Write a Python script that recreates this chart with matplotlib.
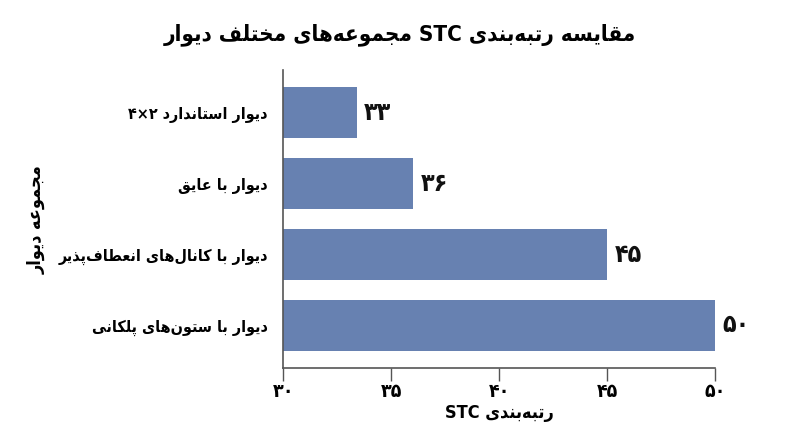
import matplotlib
matplotlib.use('Agg')
import matplotlib.pyplot as plt
from matplotlib.ticker import FuncFormatter

# داده ها
walls = ['دیوار استاندارد ۲×۴', 'دیوار با عایق',
         'دیوار با کانال‌های انعطاف‌پذیر', 'دیوار با ستون‌های پلکانی']
stc_labels = [33, 36, 45, 50]
stc_bars = [33.4, 36, 45, 50]   # طول میله ها چنان که در تصویر دیده می شود
xticks = [30, 35, 40, 45, 50]
title = 'مقایسه رتبه‌بندی STC مجموعه‌های مختلف دیوار'
xlabel = 'رتبه‌بندی STC'
ylabel = 'مجموعه دیوار'

# اشکال حروف: جدا، پایانی، آغازی، میانی
FORMS = {
    'ا': (0xFE8D, 0xFE8E), 'آ': (0xFE81, 0xFE82), 'د': (0xFEA9, 0xFEAA),
    'ذ': (0xFEAB, 0xFEAC), 'ر': (0xFEAD, 0xFEAE), 'ز': (0xFEAF, 0xFEB0),
    'ژ': (0xFB8A, 0xFB8B), 'و': (0xFEED, 0xFEEE),
    'ب': (0xFE8F, 0xFE90, 0xFE91, 0xFE92), 'ت': (0xFE95, 0xFE96, 0xFE97, 0xFE98),
    'ث': (0xFE99, 0xFE9A, 0xFE9B, 0xFE9C), 'ج': (0xFE9D, 0xFE9E, 0xFE9F, 0xFEA0),
    'ح': (0xFEA1, 0xFEA2, 0xFEA3, 0xFEA4), 'خ': (0xFEA5, 0xFEA6, 0xFEA7, 0xFEA8),
    'س': (0xFEB1, 0xFEB2, 0xFEB3, 0xFEB4), 'ش': (0xFEB5, 0xFEB6, 0xFEB7, 0xFEB8),
    'ص': (0xFEB9, 0xFEBA, 0xFEBB, 0xFEBC), 'ض': (0xFEBD, 0xFEBE, 0xFEBF, 0xFEC0),
    'ط': (0xFEC1, 0xFEC2, 0xFEC3, 0xFEC4), 'ظ': (0xFEC5, 0xFEC6, 0xFEC7, 0xFEC8),
    'ع': (0xFEC9, 0xFECA, 0xFECB, 0xFECC), 'غ': (0xFECD, 0xFECE, 0xFECF, 0xFED0),
    'ف': (0xFED1, 0xFED2, 0xFED3, 0xFED4), 'ق': (0xFED5, 0xFED6, 0xFED7, 0xFED8),
    'ل': (0xFEDD, 0xFEDE, 0xFEDF, 0xFEE0), 'م': (0xFEE1, 0xFEE2, 0xFEE3, 0xFEE4),
    'ن': (0xFEE5, 0xFEE6, 0xFEE7, 0xFEE8), 'ه': (0xFEE9, 0xFEEA, 0xFEEB, 0xFEEC),
    'پ': (0xFB56, 0xFB57, 0xFB58, 0xFB59), 'چ': (0xFB7A, 0xFB7B, 0xFB7C, 0xFB7D),
    'ک': (0xFB8E, 0xFB8F, 0xFB90, 0xFB91), 'گ': (0xFB92, 0xFB93, 0xFB94, 0xFB95),
    'ی': (0xFBFC, 0xFBFD, 0xFBFE, 0xFBFF),
}
FA_DIGITS = '۰۱۲۳۴۵۶۷۸۹'


def shape(s):
    out = []
    for i, ch in enumerate(s):
        if ch == '\u200c':
            continue
        if ch not in FORMS:
            out.append(ch)
            continue
        prev = s[i - 1] if i > 0 else ''
        nxt = s[i + 1] if i + 1 < len(s) else ''
        f = FORMS[ch]
        jp = prev in FORMS and len(FORMS[prev]) == 4
        jn = len(f) == 4 and nxt in FORMS
        if jp and jn:
            out.append(chr(f[3]))
        elif jp:
            out.append(chr(f[1]))
        elif jn:
            out.append(chr(f[2]))
        else:
            out.append(chr(f[0]))
    return ''.join(out)


def fa(s):
    # ترتیب نمایشی راست به چپ، قطعه های لاتین و عدد دست نخورده
    s = shape(s)
    tokens = []
    for ch in s:
        ltr = ch.isascii() and ch.isalnum() or ch in FA_DIGITS
        if ltr and tokens and tokens[-1][0]:
            tokens[-1][1] += ch
        else:
            tokens.append([ltr, ch])
    return ''.join(t[1] for t in reversed(tokens))


def fa_num(n):
    return ''.join(FA_DIGITS[int(d)] for d in str(n))


plt.rcParams['font.family'] = ['DejaVu Sans']
plt.rcParams['font.weight'] = 'bold'
plt.rcParams['font.stretch'] = 'condensed'

fig = plt.figure(figsize=(8, 4.47), dpi=100)
ax = fig.add_axes([0.354, 0.1767, 0.54, 0.666])

pos = list(range(len(walls)))
ax.barh(pos, [v - 30 for v in stc_bars], left=30, height=0.72, color='#6781b1')
for p, v, lab in zip(pos, stc_bars, stc_labels):
    ax.text(v + 0.35, p, fa(fa_num(lab)), va='center', ha='left',
            fontsize=18, fontweight='bold', color='#111111')

ax.set_xlim(30, 50)
ax.set_ylim(3.6, -0.6)
ax.set_yticks(pos)
ax.set_yticklabels([fa(w) for w in walls], fontsize=11.5, fontweight='bold')
ax.set_xticks(xticks)
ax.xaxis.set_major_formatter(FuncFormatter(lambda x, _: fa(fa_num(int(x)))))
for lab in ax.get_xticklabels():
    lab.set_fontsize(14)
    lab.set_fontweight('bold')

ax.tick_params(axis='y', length=0, pad=11)
ax.tick_params(axis='x', length=9, width=1, color='#555555', pad=1)
for sp in ['top', 'right']:
    ax.spines[sp].set_visible(False)
for sp in ['left', 'bottom']:
    ax.spines[sp].set_color('#555555')
    ax.spines[sp].set_linewidth(1.2)

fig.text(0.5, 0.922, fa(title), ha='center', va='center', fontsize=16, fontweight='bold')
ax.set_xlabel(fa(xlabel), fontsize=13, fontweight='bold', labelpad=2)
ax.set_ylabel(fa(ylabel), fontsize=13, fontweight='bold')
ax.yaxis.set_label_coords(-0.55, 0.5)

fig.savefig('out.png', dpi=100)
